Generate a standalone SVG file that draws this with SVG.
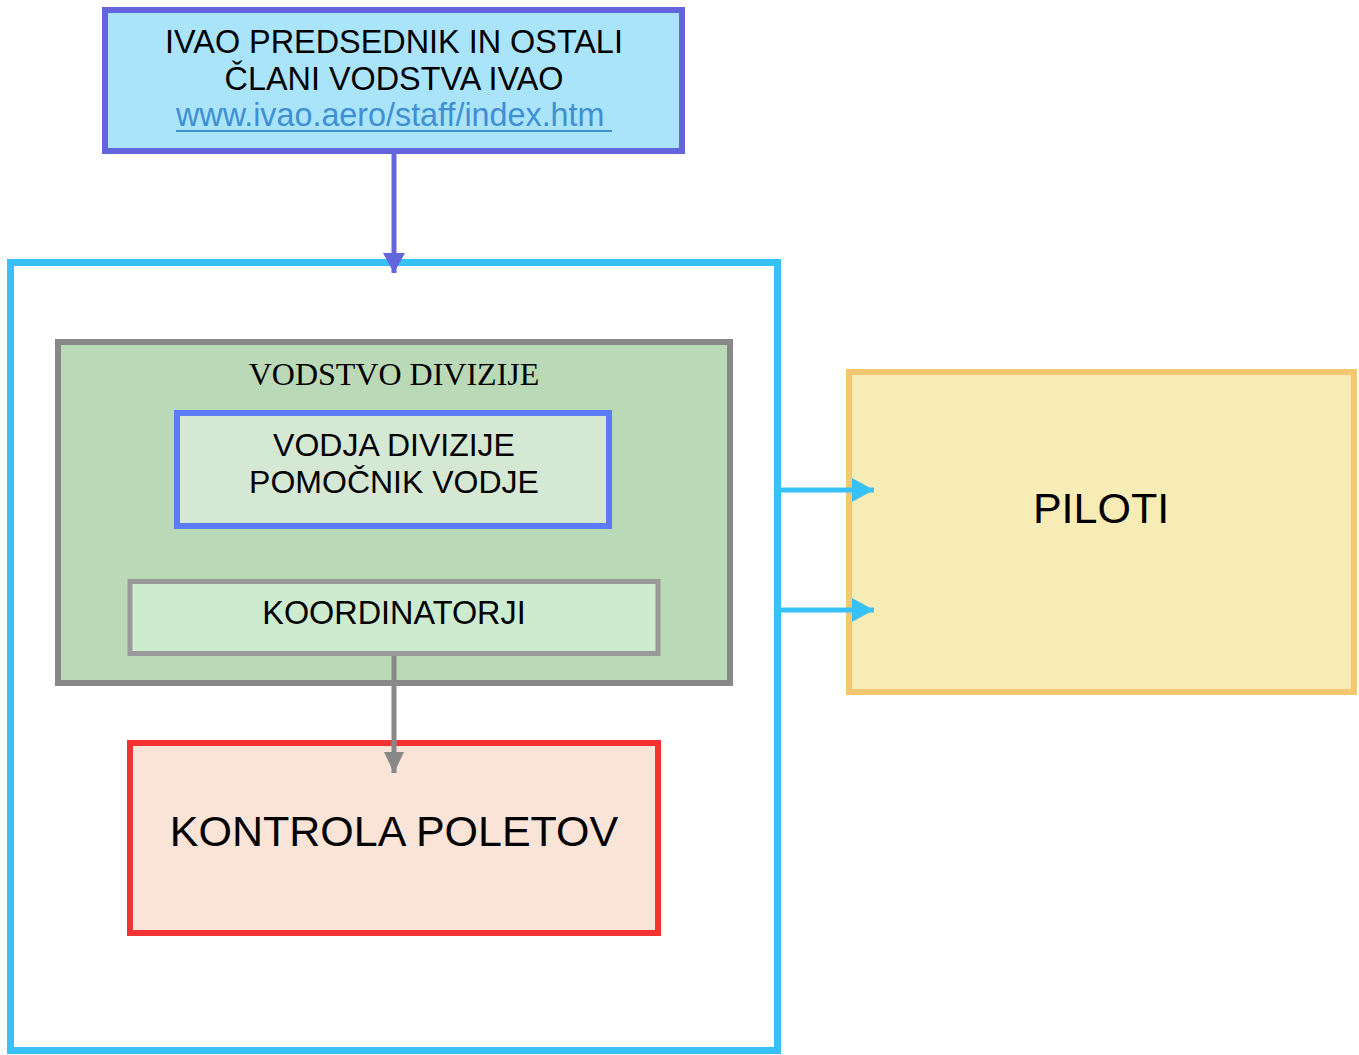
<svg xmlns="http://www.w3.org/2000/svg" width="1359" height="1055" viewBox="0 0 1359 1055">
<style>
.t{font-family:"Liberation Sans",Arial,sans-serif;fill:#000;text-anchor:middle}
.s{font-family:"Liberation Serif","Times New Roman",serif;fill:#000;text-anchor:middle}
.lnk{font-family:"Liberation Sans",Arial,sans-serif;fill:#3f8fd2}
</style>
<defs>
<marker id="ap" markerUnits="userSpaceOnUse" markerWidth="22" markerHeight="24" refX="20" refY="11" orient="auto"><polygon points="0,0 20,11 0,22" fill="#6464dc"/></marker>
<marker id="ag" markerUnits="userSpaceOnUse" markerWidth="24" markerHeight="24" refX="21" refY="10" orient="auto"><polygon points="0,0 21,10 0,20" fill="#888888"/></marker>
<marker id="ab" markerUnits="userSpaceOnUse" markerWidth="24" markerHeight="26" refX="22" refY="12" orient="auto"><polygon points="0,0 22,12 0,24" fill="#38c1f7"/></marker>
</defs>
<rect width="1359" height="1055" fill="#ffffff"/>
<g id="frame"><rect x="10.5" y="262.5" width="767" height="788" fill="none" stroke="#38c1f7" stroke-width="7"/></g>
<g id="ivao">
<rect x="105" y="10" width="577" height="141" fill="#a9e4fb" stroke="#6464dc" stroke-width="6"/>
<text class="t" x="394" y="53" font-size="32.4">IVAO PREDSEDNIK IN OSTALI</text>
<text class="t" x="394" y="90" font-size="32.4">ČLANI VODSTVA IVAO</text>
<text class="lnk" x="176" y="126" font-size="32.3">www.ivao.aero/staff/index.htm</text>
<line x1="176" y1="131" x2="612" y2="131" stroke="#3f8fd2" stroke-width="2"/>
</g>
<g id="vodstvo">
<rect x="58" y="342" width="672" height="341" fill="#bad9b7" stroke="#888888" stroke-width="6"/>
<text class="s" x="394" y="385" font-size="32">VODSTVO DIVIZIJE</text>
</g>
<g id="vodja">
<rect x="177" y="413" width="432" height="113" fill="#d5e8d4" stroke="#5b7bf7" stroke-width="6"/>
<text class="t" x="394" y="456" font-size="32">VODJA DIVIZIJE</text>
<text class="t" x="394" y="493" font-size="32">POMOČNIK VODJE</text>
</g>
<g id="koordinatorji">
<rect x="130" y="581.5" width="528" height="72" fill="#cdeccf" stroke="#999999" stroke-width="5"/>
<text class="t" x="394" y="624" font-size="32.4">KOORDINATORJI</text>
</g>
<g id="kontrola">
<rect x="130" y="743" width="528" height="190" fill="#fae4d8" stroke="#f33333" stroke-width="6"/>
<text class="t" x="394" y="846" font-size="43">KONTROLA POLETOV</text>
</g>
<g id="piloti">
<rect x="849" y="372" width="505" height="320" fill="#f8ecb6" stroke="#f4c870" stroke-width="6"/>
<text class="t" x="1101" y="523" font-size="43">PILOTI</text>
</g>
<g id="connectors">
<line x1="394" y1="154" x2="394" y2="273" stroke="#6464dc" stroke-width="5" marker-end="url(#ap)"/>
<line x1="394" y1="656" x2="394" y2="773" stroke="#888888" stroke-width="5" marker-end="url(#ag)"/>
<line x1="781" y1="490" x2="874" y2="490" stroke="#38c1f7" stroke-width="5" marker-end="url(#ab)"/>
<line x1="781" y1="610" x2="874" y2="610" stroke="#38c1f7" stroke-width="5" marker-end="url(#ab)"/>
</g>
</svg>
